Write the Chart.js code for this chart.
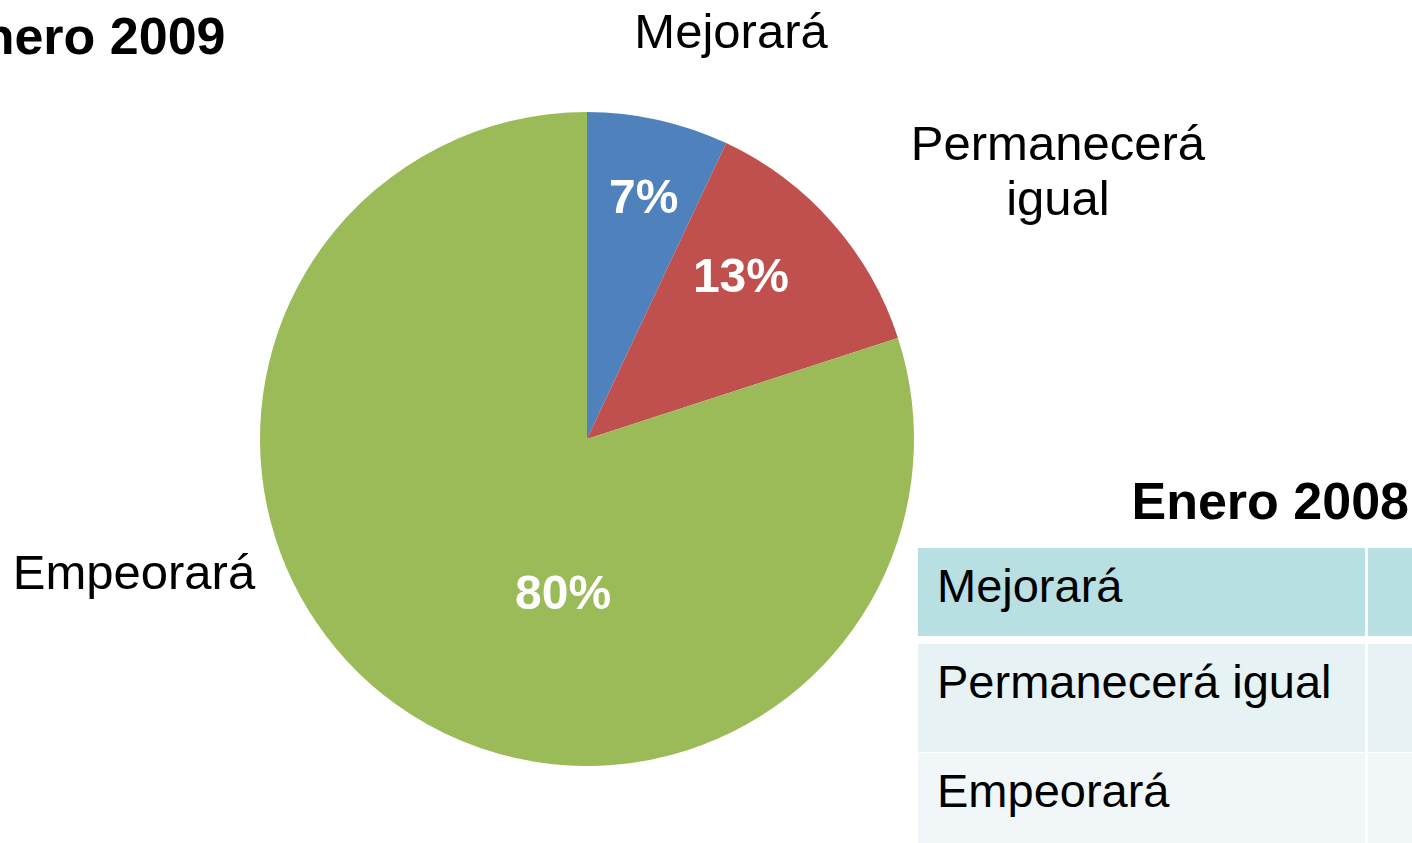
<!DOCTYPE html>
<html>
<head>
<meta charset="utf-8">
<script src="https://cdn.jsdelivr.net/npm/chart.js@4.4.1/dist/chart.umd.min.js"></script>
<style>
  body { margin: 0; background: #fff; overflow: hidden; font-family: "Liberation Sans", Arial, sans-serif; }
  #wrap { position: relative; width: 1412px; height: 843px; overflow: hidden; }
  #chartBox { position: absolute; left: 0; top: 0; width: 1412px; height: 843px; }
  .title { position: absolute; font-weight: bold; font-size: 52px; line-height: 1; color: #000; white-space: nowrap; }
  .row { position: absolute; left: 918px; width: 447px; font-size: 47px; line-height: 1; padding: 14px 0 0 19px; box-sizing: border-box; white-space: nowrap; color: #000; }
  .cell2 { position: absolute; left: 1368px; width: 80px; }
</style>
</head>
<body>
<div id="wrap">
  <div id="chartBox"><canvas id="pieChart"></canvas></div>
  <div class="title" style="left:-52px; top:10px;">Enero 2009</div>
  <div class="title" style="right:3px; top:475px;">Enero 2008</div>
  <div id="table2008"></div>
</div>
<script>
const categories = ['Mejorará', 'Permanecerá igual', 'Empeorará'];
const values = [7, 13, 80];
const sliceColors = ['#4F81BD', '#C0504D', '#9BBB59'];

// label placement around the pie: [degrees clockwise from top, distance in radii]
const outerLabelPos = [[19.4, 1.326], [60.3, 1.658], [253.75, 1.443]];
const outerLabelLines = [['Mejorará'], ['Permanecerá', 'igual'], ['Empeorará']];
const innerLabelPos = [[13.1, 0.764], [43.1, 0.689], [188.9, 0.474]];

const pieLabels = {
    id: 'pieLabels',
    afterDatasetsDraw(chart) {
        const ctx = chart.ctx;
        const arcs = chart.getDatasetMeta(0).data;
        const total = values.reduce((a, b) => a + b, 0);
        ctx.save();
        arcs.forEach((arc, i) => {
            const p = arc.getProps(['x', 'y', 'outerRadius'], true);
            const put = (pos) => {
                const a = pos[0] * Math.PI / 180;
                return [p.x + Math.sin(a) * pos[1] * p.outerRadius, p.y - Math.cos(a) * pos[1] * p.outerRadius];
            };
            // percentages inside
            let [x, y] = put(innerLabelPos[i]);
            ctx.font = 'bold 48px "Liberation Sans", Arial, sans-serif';
            ctx.fillStyle = '#ffffff';
            ctx.textAlign = 'center';
            ctx.textBaseline = 'alphabetic';
            ctx.fillText(Math.round(values[i] / total * 100) + '%', x, y + 48 * 0.358);
            // category names outside
            [x, y] = put(outerLabelPos[i]);
            ctx.font = '49px "Liberation Sans", Arial, sans-serif';
            ctx.fillStyle = '#000000';
            const lines = outerLabelLines[i];
            const lh = 55;
            lines.forEach((t, k) => {
                const ly = y + (k - (lines.length - 1) / 2) * lh;
                ctx.fillText(t, x, ly + 49 * 0.358);
            });
        });
        ctx.restore();
    }
};

new Chart(document.getElementById('pieChart').getContext('2d'), {
    type: 'pie',
    data: {
        labels: categories,
        datasets: [{
            data: values,
            backgroundColor: sliceColors,
            borderWidth: 0
        }]
    },
    options: {
        responsive: true,
        maintainAspectRatio: false,
        animation: false,
        layout: { padding: { left: 260, top: 112, right: 498, bottom: 77 } },
        plugins: {
            legend: { display: false },
            tooltip: { enabled: false }
        }
    },
    plugins: [pieLabels]
});

// Enero 2008 table (values column is cut off in the reference)
const rowTops = [548, 644, 753];
const rowHeights = [88, 108, 100];
const rowColors = ['#B8DFE2', '#E6F2F4', '#F1F7F9'];
const table = document.getElementById('table2008');
categories.forEach((c, i) => {
    const r = document.createElement('div');
    r.className = 'row';
    r.style.top = rowTops[i] + 'px';
    r.style.height = rowHeights[i] + 'px';
    r.style.background = rowColors[i];
    r.textContent = c;
    table.appendChild(r);
    const c2 = document.createElement('div');
    c2.className = 'cell2';
    c2.style.top = rowTops[i] + 'px';
    c2.style.height = rowHeights[i] + 'px';
    c2.style.background = rowColors[i];
    table.appendChild(c2);
});
</script>
</body>
</html>
